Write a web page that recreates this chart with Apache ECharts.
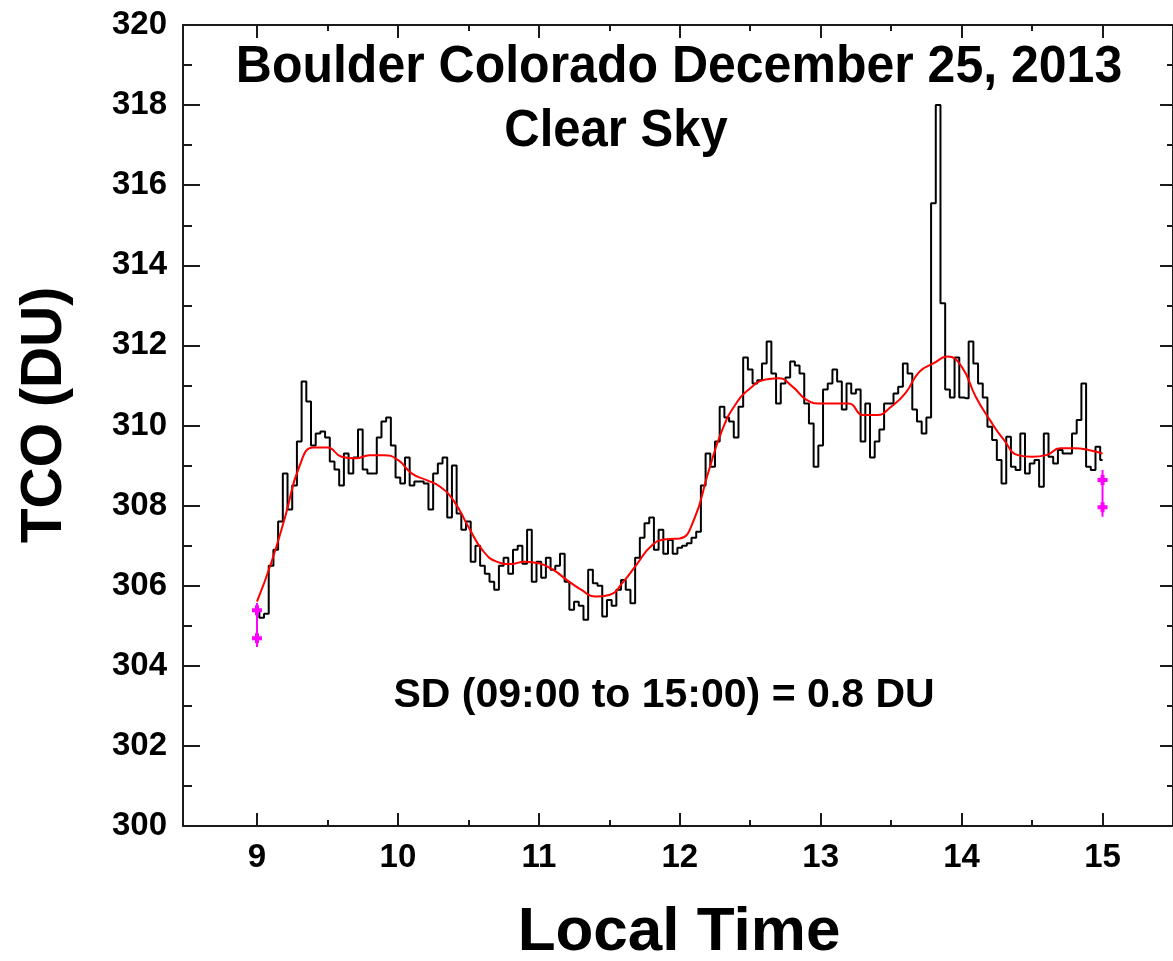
<!DOCTYPE html>
<html>
<head>
<meta charset="utf-8">
<script src="https://cdn.jsdelivr.net/npm/echarts@6/dist/echarts.min.js"></script>
<style>
html,body{margin:0;padding:0;background:#fff;}
#chart{width:1173px;height:961px;}
</style>
</head>
<body>
<div id="chart"></div>
<script>
// ---- data ----
// black: TCO measured every 2 minutes from 09:00 to 15:00 (DU)
const tcoValues = [
  305.4, 305.2, 305.3, 306.5, 306.9, 307.6, 308.8, 307.9, 308.5, 309.6,
  311.1, 310.6, 309.5, 309.8, 309.85, 309.7, 309.1, 308.9, 308.5, 309.3,
  308.8, 309.2, 309.9, 308.9, 308.8, 308.8, 309.7, 310.1, 310.2, 309.5,
  308.7,
  308.55, 309.2, 308.5, 308.6, 308.6, 308.55, 307.9, 308.8, 309.05, 309.2,
  307.7, 309.0, 307.8, 307.4, 307.6, 306.6, 307.0, 306.5, 306.3, 306.1,
  305.9, 306.5, 306.7, 306.3, 306.9, 307.0, 306.55, 307.4, 306.1, 306.6,
  306.2, 306.7, 306.4, 306.5, 306.8, 306.1, 305.4, 305.6, 305.5, 305.15,
  306.4, 306.06, 306.0, 305.23, 305.64, 305.5, 305.9, 306.14, 305.9, 305.56,
  306.7, 307.2, 307.56, 307.7, 306.9, 307.4, 306.8, 307.14, 306.8, 306.95,
  307.0, 307.06, 307.2, 307.35, 308.5, 309.3, 308.97, 309.6, 310.47, 310.2,
  310.1, 309.7, 310.47, 311.7, 311.4, 311.05, 311.13, 311.55, 312.1, 311.3,
  310.55, 311.05, 311.2, 311.6, 311.5, 311.3, 310.55, 310.05, 308.97, 309.5,
  310.9, 311.05, 311.4, 311.1, 310.4, 311.05, 310.8, 310.9, 309.6, 310.55,
  309.2, 309.6, 309.9, 310.55, 310.55, 310.8, 310.97, 311.55, 311.3, 310.4,
  310.1, 309.8, 310.2, 315.55, 318.0, 313.05, 310.9, 310.7, 311.7, 310.7,
  310.68, 312.1, 311.55, 311.05, 310.7, 309.97, 309.64, 309.14, 308.55, 309.72,
  308.97, 308.89, 309.8, 308.8, 309.05, 309.14, 308.47, 309.8, 309.22, 309.05,
  309.39, 309.3, 309.3, 309.8, 310.14, 311.05, 308.97, 308.89, 309.47, 309.14
];
const tcoStartHour = 9;
const tcoStepMinutes = 2;

// red: smoothed curve, every 0.1 h from 9.0 to 15.0
const smoothValues = [
  305.6, 306.56, 307.72, 308.97, 309.45, 309.45, 309.22, 309.18, 309.26, 309.26, 309.14,
  308.8, 308.64, 308.47, 308.1, 307.47, 306.89, 306.6, 306.54, 306.6, 306.56,
  306.4, 306.14, 305.9, 305.73, 305.77, 306.1, 306.56, 307.0, 307.16, 307.18,
  307.64, 308.8, 309.88, 310.55, 310.93, 311.14, 311.18, 310.97, 310.64, 310.55,
  310.55, 310.55, 310.26, 310.26, 310.47, 310.8, 311.34, 311.55, 311.72, 311.47,
  310.72, 310.14, 309.64, 309.26, 309.22, 309.26, 309.43, 309.43, 309.39, 309.3
];
const smoothStartHour = 9;
const smoothStepHours = 0.1;

// magenta end bars: [hour, bar top, marker high, marker low, bar bottom]
const endBarStart = [9, 305.57, 305.39, 304.69, 304.47];
const endBarEnd = [15, 308.89, 308.64, 307.96, 307.72];

// axes
const xMajorTicks = [9, 10, 11, 12, 13, 14, 15];
const xMinorTicks = [9.5, 10.5, 11.5, 12.5, 13.5, 14.5];
const xRange = [8.475, 15.5];
const yRange = [300, 320];
const yStep = 2;

const titleText = 'Boulder Colorado December 25, 2013';
const subtitleText = 'Clear Sky';
const noteText = 'SD (09:00 to 15:00) = 0.8 DU';
const xName = 'Local Time';
const yName = 'TCO (DU)';

// ---- build ----
const tcoData = tcoValues.map((v, i) => [tcoStartHour + i * tcoStepMinutes / 60, v]);
const smoothData = smoothValues.map((v, i) => [smoothStartHour + i * smoothStepHours, v]);
function barData(b) {
  return [
    { value: [b[0], b[1]], symbol: 'none' },
    { value: [b[0], b[2]] },
    { value: [b[0], b[3]] },
    { value: [b[0], b[4]], symbol: 'none' }
  ];
}

const FONT = '"Liberation Sans", Arial, Helvetica, sans-serif';
const AX = '#1a1a1a';

function xAxisDef(pos, ticks, len, showLine, showLabel) {
  return {
    type: 'value', position: pos, min: xRange[0], max: xRange[1],
    axisLine: { show: showLine, onZero: false, lineStyle: { color: AX, width: 2 } },
    axisTick: { show: true, inside: true, length: len, customValues: ticks, lineStyle: { color: AX, width: 2 } },
    axisLabel: { show: showLabel, customValues: xMajorTicks, margin: 15, color: '#000',
      fontFamily: FONT, fontWeight: 'bold', fontSize: 33 },
    splitLine: { show: false }
  };
}
function yAxisDef(pos, majorLen, minorLen, showLabel) {
  return {
    type: 'value', position: pos, min: yRange[0], max: yRange[1], interval: yStep,
    axisLine: { show: true, onZero: false, lineStyle: { color: AX, width: 2 } },
    axisTick: { show: true, inside: true, length: majorLen, lineStyle: { color: AX, width: 2 } },
    minorTick: { show: true, splitNumber: 2, length: minorLen, lineStyle: { color: AX, width: 2 } },
    axisLabel: { show: showLabel, margin: 16, color: '#000', fontFamily: FONT, fontWeight: 'bold', fontSize: 33 },
    splitLine: { show: false }, minorSplitLine: { show: false }
  };
}

const chart = echarts.init(document.getElementById('chart'), null, { renderer: 'canvas' });
chart.setOption({
  backgroundColor: '#fff',
  animation: false,
  grid: { left: 183, right: 0, top: 25, bottom: 135, containLabel: false, outerBoundsMode: 'none' },
  xAxis: [
    xAxisDef('bottom', xMajorTicks, 13, true, true),
    xAxisDef('bottom', xMinorTicks, 6, false, false),
    xAxisDef('top', xMajorTicks, 13, true, false),
    xAxisDef('top', xMinorTicks, 6, false, false)
  ],
  yAxis: [
    yAxisDef('left', 17, 9, true),
    yAxisDef('right', 13, 6, false)
  ],
  series: [
    {
      type: 'line', name: 'TCO', data: tcoData, step: 'middle', symbol: 'none',
      lineStyle: { color: '#000', width: 2 }, z: 3
    },
    {
      type: 'line', name: 'smooth', data: smoothData, smooth: true, symbol: 'none',
      lineStyle: { color: '#ff0000', width: 2 }, z: 4
    },
    {
      type: 'line', name: 'start', data: barData(endBarStart), symbol: 'path://M3,0H7V3H10V7H7V10H3V7H0V3H3Z',
      symbolSize: 10, itemStyle: { color: '#ff00ff' }, lineStyle: { color: '#ff00ff', width: 2 }, z: 5
    },
    {
      type: 'line', name: 'end', data: barData(endBarEnd), symbol: 'path://M3,0H7V3H10V7H7V10H3V7H0V3H3Z',
      symbolSize: 10, itemStyle: { color: '#ff00ff' }, lineStyle: { color: '#ff00ff', width: 2 }, z: 5
    }
  ],
  graphic: [
    { type: 'text', x: 679, y: 68, scaleY: 1.05, z: 10, style: { text: titleText, align: 'center', verticalAlign: 'middle',
      font: 'bold 50px ' + FONT, fill: '#000' } },
    { type: 'text', x: 616, y: 132, scaleY: 1.05, z: 10, style: { text: subtitleText, align: 'center', verticalAlign: 'middle',
      font: 'bold 49px ' + FONT, fill: '#000' } },
    { type: 'text', x: 664, y: 696, z: 10, style: { text: noteText, align: 'center', verticalAlign: 'middle',
      font: 'bold 41px ' + FONT, fill: '#000' } },
    { type: 'text', x: 679, y: 933, z: 10, style: { text: xName, align: 'center', verticalAlign: 'middle',
      font: 'bold 62px ' + FONT, fill: '#000' } },
    { type: 'text', x: 45, y: 415, rotation: Math.PI / 2, z: 10, style: { text: yName, align: 'center', verticalAlign: 'middle',
      font: 'bold 57px ' + FONT, fill: '#000' } }
  ]
});
</script>
</body>
</html>
